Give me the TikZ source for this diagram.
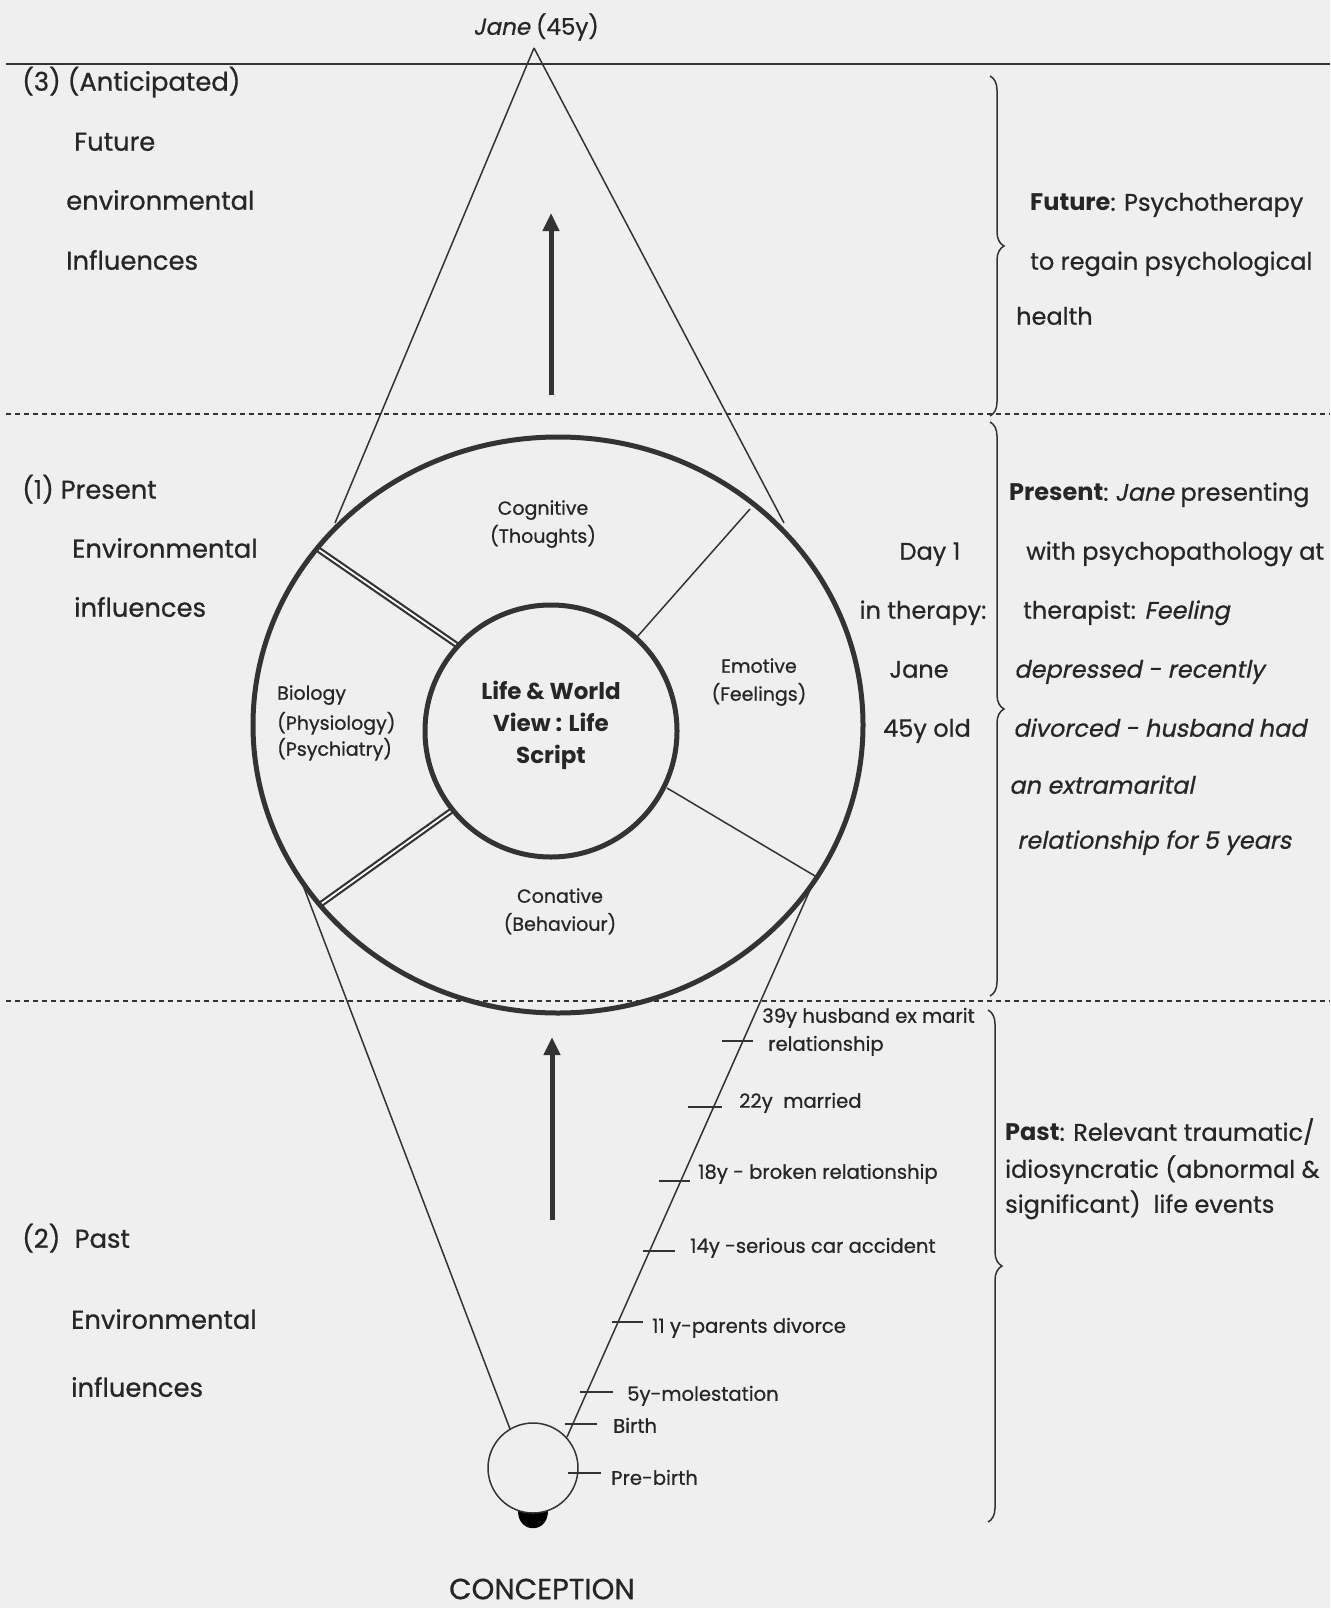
\documentclass[tikz,border=0pt]{standalone}
\usepackage{fontspec}
\setmainfont{Poppins}[UprightFeatures={FakeBold=0.7},ItalicFont={Poppins},ItalicFeatures={FakeSlant=0.2,FakeBold=0.7}]
\usetikzlibrary{arrows.meta,decorations.pathreplacing}
\definecolor{ink}{HTML}{262626}
\definecolor{stroke}{HTML}{333333}
\definecolor{paper}{HTML}{EFEFEF}
\begin{document}
\begin{tikzpicture}[x=1pt,y=-1pt,
  every node/.style={inner sep=0pt,text=ink},
  big/.style={font=\fontsize{24}{28}\selectfont},
  lbig/.style={font=\fontsize{25.8}{30}\selectfont},
  small/.style={font=\fontsize{19}{22}\selectfont},
  tiny/.style={font=\fontsize{19.6}{22}\selectfont},
  core/.style={font=\fontsize{23}{26}\selectfont\bfseries},
  thin/.style={draw=stroke,line width=1.5pt},
  ring/.style={draw=stroke,line width=5pt},
  spoke/.style={draw=stroke,double=white,double distance=1.8pt,line width=2.2pt},
  tickline/.style={draw=stroke,line width=1.5pt},
  sep/.style={draw=stroke,line width=1.3pt,dash pattern=on 5pt off 4pt},
  upar/.style={draw=stroke,line width=5pt,-{Triangle[length=18pt,width=16pt]}},
  brc/.style={draw=stroke,line width=1.5pt,decorate,decoration={brace,amplitude=14pt}}]
\fill[paper] (0,0) rectangle (1330,1608);
\useasboundingbox (0,0) rectangle (1330,1608);

% separators
\draw[draw=stroke,line width=2pt] (6,64) -- (1330,64);
\draw[sep] (6,414) -- (1330,414);
\draw[sep] (6,1001) -- (1330,1001);

% key points
\coordinate (apex) at (534,48);
\coordinate (C) at (558,725);
\coordinate (Ci) at (551,731);
\coordinate (aL) at (335,523);
\coordinate (aR) at (784,523);
\coordinate (bL) at (301,880);
\coordinate (bR) at (810,890);
\coordinate (sc) at (533,1468);
\coordinate (sL) at (510,1429);
\coordinate (sR) at (567,1437);

% triangle lines
\draw[thin] (apex) -- (aL);
\draw[thin] (apex) -- (aR);
\draw[thin] (bL) -- (sL);
\draw[thin] (bR) -- (sR);

% spokes
\draw[spoke] (319,550) -- (464,650);
\draw[spoke] (451,811) -- (321,904);
\draw[thin] (637,637) -- (750,509);
\draw[thin] (667,788) -- (815,876);

% circles
\draw[ring] (C) ellipse [x radius=305pt,y radius=288pt];
\draw[draw=stroke,line width=5pt,fill=paper] (Ci) circle [radius=126pt];

% small circle and blob
\fill[stroke] (518,1511) .. controls (518,1534) and (548,1534) .. (548,1511) -- cycle;
\draw[thin,fill=paper] (sc) circle [radius=45pt];

% arrows
\coordinate (ua0) at (551,395);
\coordinate (ua1) at (551,213);
\coordinate (la0) at (552,1220);
\coordinate (la1) at (552,1037);
\draw[upar] (ua0) -- (ua1);
\draw[upar] (la0) -- (la1);

% braces
\coordinate (b1t) at (990,76);  \coordinate (b1b) at (990,416);
\coordinate (b2t) at (990,422); \coordinate (b2b) at (990,996);
\coordinate (b3t) at (988,1010);\coordinate (b3b) at (988,1522);
\draw[brc] (b1t) -- (b1b);
\draw[brc] (b2t) -- (b2b);
\draw[brc] (b3t) -- (b3b);

% ticks
\draw[tickline] (722,1041) -- (753,1041);
\draw[tickline] (688,1107) -- (722,1107);
\draw[tickline] (659,1181) -- (690,1181);
\draw[tickline] (643,1251) -- (675,1251);
\draw[tickline] (612,1322) -- (643,1322);
\draw[tickline] (580,1392) -- (613,1392);
\draw[tickline] (565,1424) -- (597,1424);
\draw[tickline] (568,1473) -- (601,1473);

% title
\node[font=\fontsize{23}{28}\selectfont] (jane) at (536,27) {\textit{Jane} (45y)};

% left labels
\node[lbig,anchor=mid west] (t3) at (22,88) {(3) (Anticipated)};
\node[lbig,anchor=mid west] (t3b) at (74,148) {Future};
\node[lbig,anchor=mid west] (t3c) at (66,207) {environmental};
\node[lbig,anchor=mid west] (t3d) at (66,267) {Influences};
\node[lbig,anchor=mid west] (t1) at (22,496) {(1) Present};
\node[lbig,anchor=mid west] (t1b) at (72,555) {Environmental};
\node[lbig,anchor=mid west] (t1c) at (74,614) {influences};
\node[lbig,anchor=mid west] (t2) at (22,1245) {(2)\hspace{0.55em}Past};
\node[lbig,anchor=mid west] (t2b) at (71,1326) {Environmental};
\node[lbig,anchor=mid west] (t2c) at (71,1394) {influences};

% right labels
\node[big,anchor=mid west] (f1) at (1030,208) {\textbf{Future}: Psychotherapy};
\node[big,anchor=mid west] (f2) at (1030,267) {to regain psychological};
\node[big,anchor=mid west] (f3) at (1016,322) {health};
\node[big,anchor=mid west] (p1) at (1009,498) {\textbf{Present}:\ \textit{Jane} presenting};
\node[big,anchor=mid west] (p2) at (1026,557) {with psychopathology at};
\node[big,anchor=mid west] (p3) at (1023,616) {therapist: \textit{Feeling}};
\node[big,anchor=mid west] (p4) at (1014,675) {\textit{depressed - recently}};
\node[big,anchor=mid west] (p5) at (1013,734) {\textit{divorced - husband had}};
\node[big,anchor=mid west] (p6) at (1009,791) {\textit{an extramarital}};
\node[big,anchor=mid west] (p7) at (1017,846) {\textit{relationship for 5 years}};
\node[big,anchor=mid] (d1) at (930,557) {Day 1};
\node[big,anchor=mid] (d2) at (923,616) {in therapy:};
\node[big,anchor=mid] (d3) at (919,675) {Jane};
\node[big,anchor=mid] (d4) at (927,734) {45y old};
\node[big,anchor=mid west] (q1) at (1005,1138) {\textbf{Past}: Relevant traumatic/};
\node[big,anchor=mid west] (q2) at (1005,1175) {idiosyncratic (abnormal \&};
\node[big,anchor=mid west] (q3) at (1005,1210) {significant)\ \ life events};

% circle labels
\node[small,anchor=mid] (cg1) at (543,512) {Cognitive};
\node[small,anchor=mid] (cg2) at (543,540) {(Thoughts)};
\node[small,anchor=mid west] (bi1) at (277,697) {Biology};
\node[small,anchor=mid west] (bi2) at (277,727) {(Physiology)};
\node[small,anchor=mid west] (bi3) at (277,753) {(Psychiatry)};
\node[small,anchor=mid] (em1) at (759,670) {Emotive};
\node[small,anchor=mid] (em2) at (759,698) {(Feelings)};
\node[small,anchor=mid] (cn1) at (560,900) {Conative};
\node[small,anchor=mid] (cn2) at (560,928) {(Behaviour)};
\node[core,anchor=mid] (lw1) at (551,697) {Life \& World};
\node[core,anchor=mid] (lw2) at (551,729) {View : Life};
\node[core,anchor=mid] (lw3) at (551,761) {Script};

% event labels
\node[tiny,anchor=mid west] (e39a) at (762,1020) {39y husband ex marit};
\node[tiny,anchor=mid west] (e39b) at (768,1048) {relationship};
\node[tiny,anchor=mid west] (e22) at (739,1105) {22y\ \ married};
\node[tiny,anchor=mid west] (e18) at (698,1176) {18y - broken relationship};
\node[tiny,anchor=mid west] (e14) at (690,1250) {14y -serious car accident};
\node[tiny,anchor=mid west] (e11) at (652,1330) {11 y-parents divorce};
\node[tiny,anchor=mid west] (e5) at (627,1398) {5y-molestation};
\node[tiny,anchor=mid west] (eb) at (613,1430) {Birth};
\node[tiny,anchor=mid west] (ep) at (611,1482) {Pre-birth};
\node[font=\fontsize{29}{32}\selectfont] (conc) at (542,1589) {CONCEPTION};
\end{tikzpicture}
\end{document}
